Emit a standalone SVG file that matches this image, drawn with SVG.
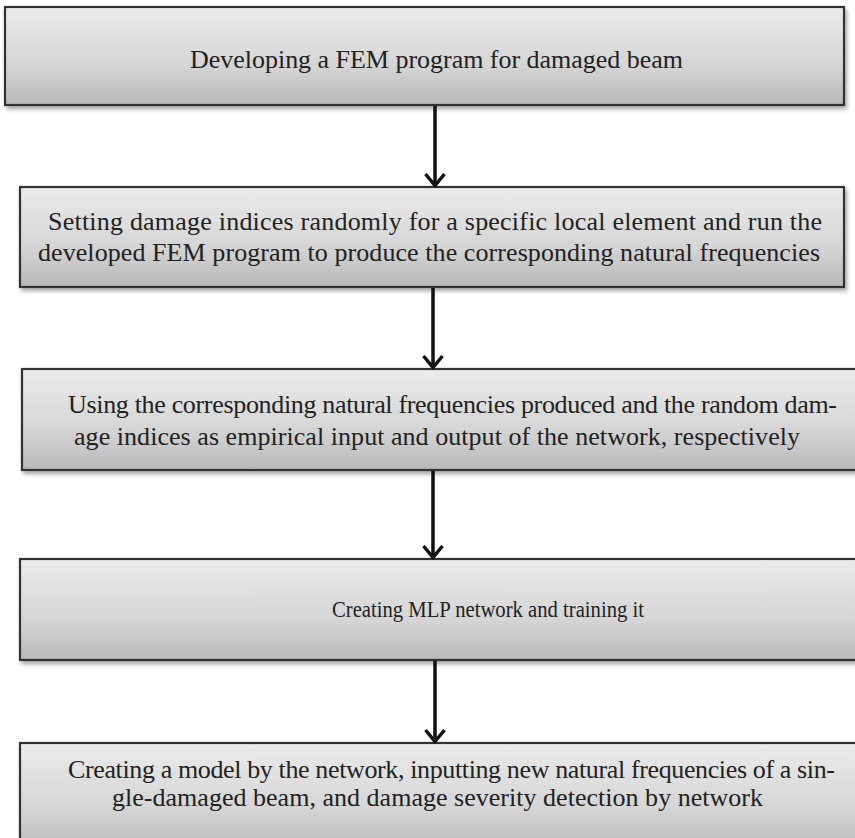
<svg xmlns="http://www.w3.org/2000/svg" width="855" height="838" viewBox="0 0 855 838">
<defs>
<linearGradient id="g" x1="0" y1="0" x2="0" y2="1">
<stop offset="0" stop-color="#ebebeb"/>
<stop offset="0.6" stop-color="#d5d5d5"/>
<stop offset="1" stop-color="#b8b8b8"/>
</linearGradient>
<filter id="sh" x="-5%" y="-10%" width="115%" height="130%">
<feDropShadow dx="2" dy="3" stdDeviation="2" flood-color="#000" flood-opacity="0.35"/>
</filter>
<marker id="ah" viewBox="0 0 16 22" refX="14" refY="11" markerWidth="16" markerHeight="22" markerUnits="userSpaceOnUse" orient="auto">
<path d="M2,1.5 L13.5,11 L2,20.5" fill="none" stroke="#111" stroke-width="3.5" stroke-linejoin="miter"/>
</marker>
</defs>
<style>
.box{fill:url(#g);stroke:#333;stroke-width:2.2;filter:url(#sh)}
.t{font-family:"Liberation Serif","Times New Roman",serif;font-size:26px;fill:#222}
.c{stroke:#111;stroke-width:3.5;fill:none}
</style>
<rect width="855" height="838" fill="#fff"/>
<g id="n1"><rect class="box" x="5" y="7" width="839" height="98"/>
<text class="t" x="190" y="68" textLength="493" lengthAdjust="spacing">Developing a FEM program for damaged beam</text></g>
<g id="n2"><rect class="box" x="20" y="187" width="824" height="100"/>
<text class="t" x="48" y="230" textLength="774" lengthAdjust="spacing">Setting damage indices randomly for a specific local element and run the</text>
<text class="t" x="38" y="261" textLength="782" lengthAdjust="spacing">developed FEM program to produce the corresponding natural frequencies</text></g>
<g id="n3"><rect class="box" x="22" y="369" width="845" height="101"/>
<text class="t" x="68" y="413" textLength="769" lengthAdjust="spacing">Using the corresponding natural frequencies produced and the random dam-</text>
<text class="t" x="74" y="445" textLength="726" lengthAdjust="spacing">age indices as empirical input and output of the network, respectively</text></g>
<g id="n4"><rect class="box" x="20" y="559" width="847" height="101"/>
<text class="t" x="332" y="617" style="font-size:24px" textLength="312" lengthAdjust="spacingAndGlyphs">Creating MLP network and training it</text></g>
<g id="n5"><rect class="box" x="20" y="743" width="847" height="110"/>
<text class="t" x="68" y="778" textLength="767" lengthAdjust="spacing">Creating a model by the network, inputting new natural frequencies of a sin-</text>
<text class="t" x="112" y="806" textLength="651" lengthAdjust="spacing">gle-damaged beam, and damage severity detection by network</text></g>
<g id="connectors">
<line class="c" x1="435" y1="106" x2="435" y2="186" marker-end="url(#ah)"/>
<line class="c" x1="433" y1="288" x2="433" y2="368" marker-end="url(#ah)"/>
<line class="c" x1="433" y1="471" x2="433" y2="558" marker-end="url(#ah)"/>
<line class="c" x1="435" y1="661" x2="435" y2="742" marker-end="url(#ah)"/>
</g>
</svg>
